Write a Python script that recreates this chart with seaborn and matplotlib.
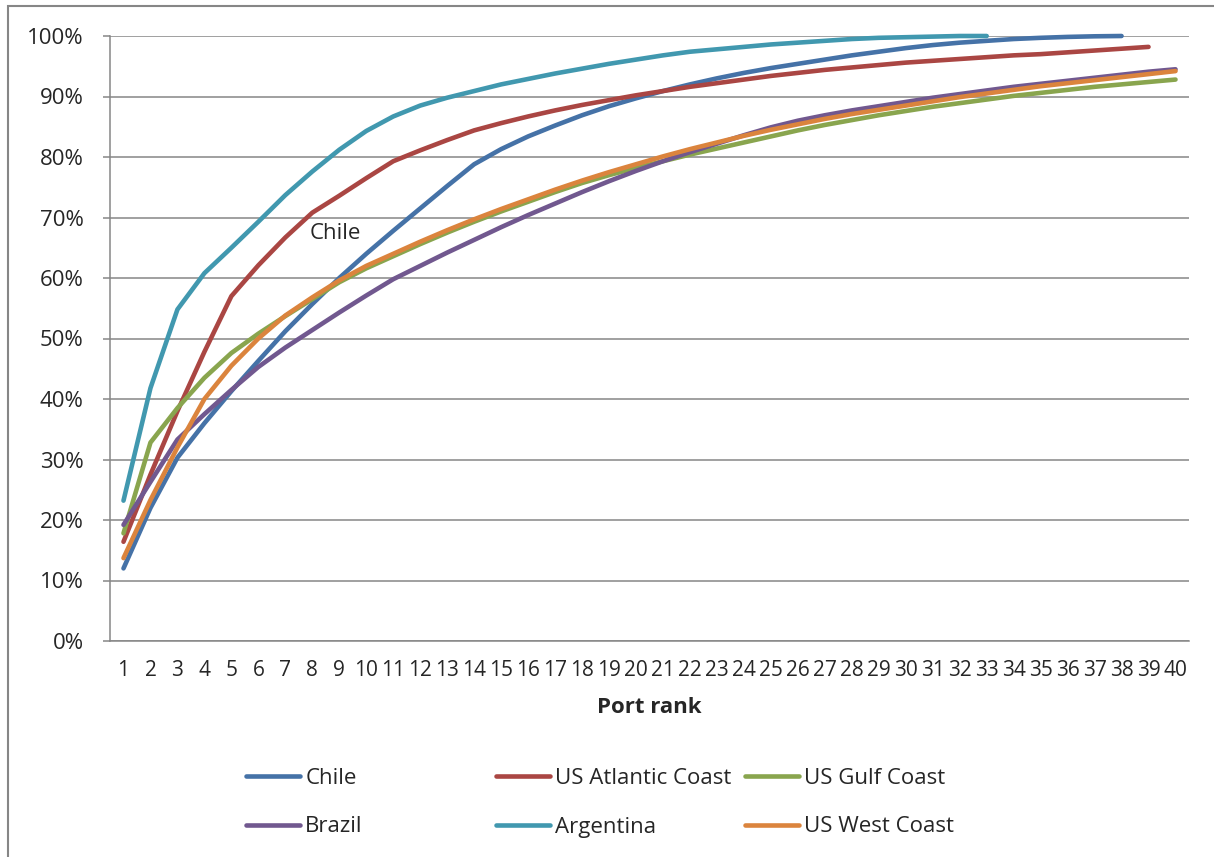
import numpy as np
import pandas as pd
import matplotlib
matplotlib.use("Agg")
import matplotlib.pyplot as plt
import seaborn as sns
from matplotlib.ticker import PercentFormatter
from matplotlib.patches import Rectangle

# cumulative share of traffic by port rank (%)
chile = [12.0, 22.0, 30.3, 36.0, 41.3, 46.3, 51.2, 55.7, 60.0, 64.0,
         67.8, 71.5, 75.2, 78.8, 81.3, 83.4, 85.2, 86.9, 88.4, 89.7,
         90.9, 92.0, 93.0, 93.9, 94.7, 95.4, 96.1, 96.8, 97.4, 98.0,
         98.5, 98.9, 99.2, 99.5, 99.7, 99.85, 99.95, 100.0]
us_atlantic = [16.4, 27.5, 38.0, 47.8, 57.0, 62.1, 66.7, 70.8, 73.6, 76.5,
               79.3, 81.1, 82.8, 84.4, 85.6, 86.7, 87.7, 88.6, 89.4, 90.2,
               90.9, 91.6, 92.2, 92.8, 93.4, 93.9, 94.4, 94.8, 95.2, 95.6,
               95.9, 96.2, 96.5, 96.8, 97.0, 97.3, 97.6, 97.9, 98.2]
us_gulf = [17.8, 32.8, 38.5, 43.5, 47.6, 50.8, 53.7, 56.5, 59.3, 61.6,
           63.6, 65.6, 67.5, 69.3, 71.0, 72.6, 74.2, 75.7, 77.0, 78.2,
           79.3, 80.4, 81.4, 82.4, 83.4, 84.4, 85.3, 86.1, 86.9, 87.6,
           88.3, 88.9, 89.5, 90.1, 90.6, 91.1, 91.6, 92.0, 92.4, 92.8]
brazil = [19.2, 26.3, 33.3, 37.5, 41.5, 45.3, 48.5, 51.4, 54.3, 57.1,
          59.8, 62.0, 64.2, 66.3, 68.4, 70.4, 72.3, 74.2, 76.0, 77.7,
          79.3, 80.8, 82.2, 83.6, 84.9, 86.0, 86.9, 87.7, 88.4, 89.1,
          89.8, 90.4, 91.0, 91.6, 92.1, 92.6, 93.1, 93.6, 94.1, 94.5]
argentina = [23.2, 41.8, 54.8, 60.8, 65.0, 69.3, 73.7, 77.6, 81.2, 84.3,
             86.7, 88.5, 89.8, 90.9, 92.0, 92.9, 93.8, 94.6, 95.4, 96.1,
             96.8, 97.4, 97.8, 98.2, 98.6, 98.9, 99.2, 99.5, 99.7, 99.8,
             99.9, 100.0, 100.0]
us_west = [13.7, 23.3, 32.0, 40.0, 45.5, 50.0, 53.8, 56.8, 59.6, 62.0,
           64.0, 66.0, 67.9, 69.7, 71.4, 73.0, 74.6, 76.1, 77.5, 78.8,
           80.1, 81.3, 82.4, 83.5, 84.5, 85.4, 86.3, 87.1, 87.8, 88.5,
           89.2, 89.9, 90.5, 91.1, 91.7, 92.2, 92.7, 93.2, 93.7, 94.2]

series_names = ["Chile", "US Atlantic Coast", "US Gulf Coast",
                "Brazil", "Argentina", "US West Coast"]
series_values = [chile, us_atlantic, us_gulf, brazil, argentina, us_west]
colors = ["#4572A7", "#AA4643", "#89A54E", "#71588F", "#4198AF", "#DB843D"]

rows = []
for name, vals in zip(series_names, series_values):
    for i, v in enumerate(vals):
        rows.append({"rank": i + 1, "share": v, "region": name})
df = pd.DataFrame(rows)

sns.set_style("white")
plt.rcParams["font.family"] = ["Open Sans", "DejaVu Sans"]
grid_col = "#868686"
fs = 16

fig = plt.figure(figsize=(12.14, 8.57), dpi=100)
ax = fig.add_axes([110 / 1214, 1 - 641 / 857, 1079 / 1214, 605 / 857])

sns.lineplot(data=df, x="rank", y="share", hue="region",
             hue_order=series_names, palette=dict(zip(series_names, colors)),
             linewidth=3.3, sort=False, ax=ax)
for ln in ax.lines:
    ln.set_solid_capstyle("round")
    ln.set_solid_joinstyle("round")
    ln.set_clip_on(False)

ax.set_xlim(0.5, 40.5)
ax.set_ylim(0, 100)
ax.set_xticks(range(1, 41))
ax.set_yticks(range(0, 101, 10))
ax.yaxis.set_major_formatter(PercentFormatter(100, decimals=0))
ax.grid(axis="y", color=grid_col, linewidth=1.1)
ax.set_axisbelow(True)
for s in ["top", "right"]:
    ax.spines[s].set_visible(False)
for s in ["left", "bottom"]:
    ax.spines[s].set_color(grid_col)
    ax.spines[s].set_linewidth(1.1)
ax.tick_params(axis="y", length=5, width=1.1, color=grid_col, pad=14,
               labelsize=fs, left=True)
ax.tick_params(axis="x", length=0, pad=14, labelsize=15)
ax.set_xlabel("Port rank", fontsize=fs, fontweight="bold", labelpad=11)
ax.set_ylabel("")

ax.text(8.86, 67.4, "Chile", fontsize=fs, ha="center", va="center")

handles, labels = ax.get_legend_handles_labels()
ax.get_legend().remove()
lookup = dict(zip(labels, handles))
leg_x = [246, 496, 745]
leg_y = [778, 827]
for k, name in enumerate(series_names):
    col, row = k % 3, k // 3
    leg = fig.legend([lookup[name]], [name], loc="center left",
                     bbox_to_anchor=(leg_x[col] / 1214, 1 - leg_y[row] / 857),
                     frameon=False, fontsize=fs, borderpad=0, borderaxespad=0,
                     handlelength=2.45, handletextpad=0.22)
    for h in leg.get_lines():
        h.set_linewidth(3.3)
        h.set_solid_capstyle("round")

# chart-area border (left and top edges visible)
fig.add_artist(Rectangle((8 / 1214, -0.1), 2.0, 1.1 - 6 / 857,
                         transform=fig.transFigure, fill=False,
                         edgecolor=grid_col, linewidth=1.5, clip_on=False))

fig.savefig("out.png", dpi=100)
